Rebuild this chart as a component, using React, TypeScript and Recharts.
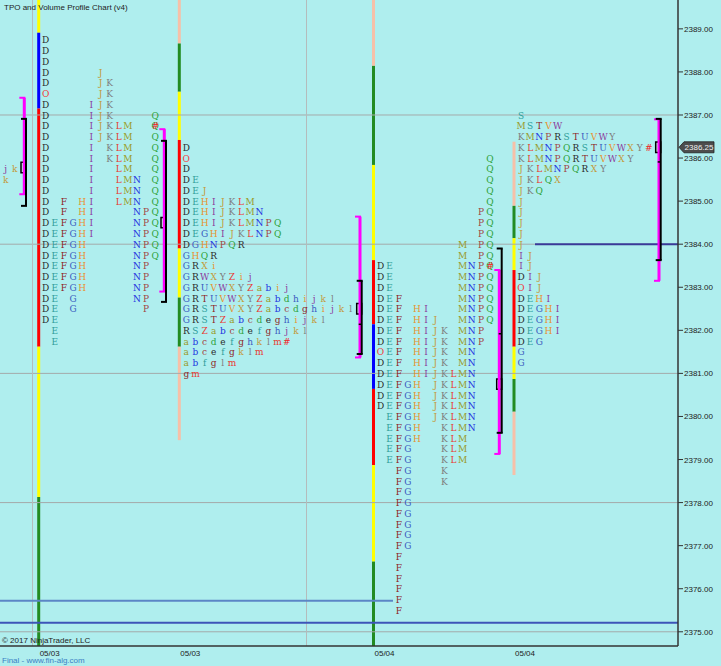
import React from 'react';
import { ComposedChart, XAxis, YAxis, Scatter, ReferenceArea, ReferenceLine, ReferenceDot } from 'recharts';

const BG = '#afeeee';

// ---- axes ----
const priceTicks = [2375, 2376, 2377, 2378, 2379, 2380, 2381, 2382, 2383, 2384, 2385, 2386, 2387, 2388, 2389];
const gridPrices = [2375, 2378, 2381, 2384, 2387];
const dayBreaks = [32.5, 306.5];
const sessionStarts = [38.7, 179.3, 373.5, 514];
const sessionDates = ['05/03', '05/03', '05/04', '05/04'];
const lastPrice = 2386.25;

// ---- TPO letters ----
const tpoSequence = 'DEFGHIJKLMNPQRSTUVWXYZabcdefghijklm';
const tpoPalette = ['#2b2b2b', '#2f9e9b', '#8e1f1f', '#3b5bc0', '#e8922e', '#8c3a9c', '#c39a3b', '#7f7f7f', '#e83a32', '#9a9a2a', '#2232e0', '#a3443f', '#2ea23a'];
const openColor = '#f03c3c';
const closeColor = '#f02828';

const stubRows = ['jk', 'k'];

const profile1Rows = [
  'D', 'D', 'D', 'D     J', 'D     JK', 'O     JK', 'D    IJK', 'D    IJK    Q',
  'D    IJKLM  &', 'D    IJKLM  Q', 'D    I KLM  Q', 'D    I KLM  Q', 'D    I  LM  Q',
  'D    I  LMN Q', 'D    I  LMN Q', 'D F HI  LMN Q', 'D F HI    NPQ', 'DEFGHI    NPQ',
  'DEFGHI    NPQ', 'DEFGH     NPQ', 'DEFGH     NPQ', 'DEFGH     NP', 'DEFGH     NP',
  'DEFGH     NP', 'DE G      NP', 'DE G       P', 'DE', ' E', ' E',
];

const profile2Rows = [
  'D', 'O', 'D', 'DE', 'DEJ', 'DEHIJKLM', 'DEHIJKLMN', 'DEHIJKLMNPQ', 'DEGHIJKLNPQ',
  'DGHNPQR', 'GHQR', 'GRXi', 'GRWXYZij', 'GRUVWXYZabij', 'GRTUVWXYZabdhijkl',
  'GRSTUVXYZabcdghijkl', 'GRSTZabcdeghijkl', 'RSZabcdefghjkl', 'abcdefghklm#',
  'abcefgklm', 'abfglm', 'gm',
];

const profile3Rows = [
  '            Q', '            Q', '            Q', '            Q', '            Q',
  '           PQ', '           PQ', '           PQ', '         M PQ', '         M PQ',
  'DE       MNP&', 'DE       MNPQ', 'DE       MNPQ', 'DEF      MNPQ', 'DEF HI   MNPQ',
  'DEF HIJ  MNPQ', 'DEF HIJK MNP', 'DEF HIJK MNP', 'OEF HIJK MN', 'DEF HIJK MN',
  'DEF HIJKLMN', 'DEFGH JKLMN', 'DEFGH JKLMN', 'DEFGH JKLMN', ' EFGH JKLMN',
  ' EFGH  KLMN', ' EFGH  KLM', ' EFG   KLM', ' EFG   KLM', '  FG   K', '  FG   K',
  '  FG', '  FG', '  FG', '  FG', '  FG', '  FG',
  '  F', '  F', '  F', '  F', '  F', '  F',
];

const profile4Rows = [
  'S', 'MSTVW', 'KMNPRSTUVWY', 'KLMNPQRSTUVWXY#', 'KLMNPQRTUVWXY', 'JKLMNPQRXY',
  'JKLQX', 'JKQ', 'J', 'J', 'J', 'J', 'J', 'IJ', 'IJ', 'DIJ', 'OIJ', 'DEHI',
  'DEGHI', 'DEGHI', 'DEGHI', 'DEG', 'G', 'G',
];

const profileRows = [stubRows, profile1Rows, profile2Rows, profile3Rows, profile4Rows];
const profileTops = [2385.75, 2388.75, 2386.25, 2386.0, 2387.0];
const profileStarts = [-1.3, 38.7, 179.3, 373.5, 514];

// ---- period colour bars (top price, bottom price, colour key) ----
const barColors: Record<string, string> = { Y: '#ffff00', B: '#0000ff', R: '#ff0000', G: '#228b22', P: '#f6c0a8' };
const periodBar1 = [
  [2389.67, 2388.91, 'Y'], [2388.91, 2387.15, 'B'], [2387.15, 2381.62, 'R'], [2381.62, 2378.13, 'Y'], [2378.13, 2374.67, 'G'],
];
const periodBar2 = [
  [2389.67, 2388.66, 'P'], [2388.66, 2387.54, 'G'], [2387.54, 2386.42, 'Y'], [2386.42, 2383.9, 'R'],
  [2383.9, 2382.76, 'Y'], [2382.76, 2381.62, 'G'], [2381.62, 2379.45, 'P'],
];
const periodBar3 = [
  [2389.67, 2388.14, 'P'], [2388.14, 2385.84, 'G'], [2385.84, 2383.63, 'Y'], [2383.63, 2382.14, 'R'],
  [2382.14, 2380.64, 'B'], [2380.64, 2378.87, 'R'], [2378.87, 2376.63, 'Y'], [2376.63, 2374.67, 'G'],
];
const periodBar4 = [
  [2386.38, 2384.89, 'P'], [2384.89, 2384.14, 'G'], [2384.14, 2383.4, 'Y'], [2383.4, 2381.62, 'R'],
  [2381.62, 2380.87, 'Y'], [2380.87, 2380.11, 'G'], [2380.11, 2378.64, 'P'],
];
const periodBars = [periodBar1, periodBar2, periodBar3, periodBar4];

// ---- value area brackets ----
const vaOuter = [
  { x: 24.3, hi: 2387.4, lo: 2385.16 },
  { x: 164.3, hi: 2386.67, lo: 2382.9 },
  { x: 360, hi: 2384.64, lo: 2381.37 },
  { x: 499.3, hi: 2383.4, lo: 2379.13 },
  { x: 659, hi: 2386.9, lo: 2383.15 },
];
const vaInner = [
  { x: 26, hi: 2386.91, lo: 2384.89, poc: 2385.78 },
  { x: 166, hi: 2386.4, lo: 2382.66, poc: 2384.5 },
  { x: 361.7, hi: 2383.15, lo: 2381.45, poc: 2382.5 },
  { x: 501.7, hi: 2383.9, lo: 2379.62, poc: 2380.75 },
  { x: 660.7, hi: 2386.91, lo: 2383.63, poc: 2386.25 },
];
const vaMidTicks = [
  { x: 361.7, y: 2382.14 },
  { x: 501.7, y: 2381.92 },
  { x: 660.7, y: 2385.91 },
];

// ---- horizontal price levels ----
const priceLevels = [
  { y: 2375.72, x1: 0, x2: 393, color: '#5b86c6' },
  { y: 2375.21, x1: 0, x2: 678, color: '#3c55b8' },
  { y: 2384.0, x1: 535, x2: 678, color: '#3a3a98' },
];

const COL = 9.13;
const LEAD = 7;

type Pt = { x: number; y: number; ch: string; color: string };
const letterPoints: Pt[] = [];
profileRows.forEach((rows, p) => {
  rows.forEach((row, r) => {
    [...row].forEach((ch, c) => {
      if (ch === ' ') return;
      const x = profileStarts[p] + LEAD + c * COL;
      const y = profileTops[p] - r * 0.25;
      if (ch === '&') {
        letterPoints.push({ x, y, ch: 'Q', color: tpoPalette[12] });
        letterPoints.push({ x, y, ch: '#', color: closeColor });
      } else if (ch === '#') {
        letterPoints.push({ x, y, ch, color: closeColor });
      } else if (ch === 'O') {
        letterPoints.push({ x, y, ch, color: openColor });
      } else {
        const idx = tpoSequence.indexOf(ch);
        letterPoints.push({ x, y, ch, color: tpoPalette[idx % 13] });
      }
    });
  });
});

const LetterShape = (props: any) => {
  const { cx, cy, payload } = props;
  return (
    <text x={cx} y={cy} dy="0.36em" textAnchor="middle" fontSize={10}
      fontFamily="'DejaVu Serif Condensed', 'DejaVu Serif', serif" fill={payload.color}>
      {payload.ch}
    </text>
  );
};

const YTick = (props: any) => (
  <text x={props.x} y={props.y} dy={3} fontSize={8} fill="#222"
    fontFamily="'Liberation Sans', Arial, sans-serif" textAnchor="start">
    {Number(props.payload.value).toFixed(2)}
  </text>
);

const XTick = (props: any) => {
  const i = sessionStarts.indexOf(props.payload.value);
  return (
    <text x={props.x + 11} y={props.y + 10} fontSize={8} fill="#222"
      fontFamily="'Liberation Sans', Arial, sans-serif" textAnchor="middle">
      {sessionDates[i]}
    </text>
  );
};

const PriceTag = (props: any) => {
  const { cx, cy } = props;
  return (
    <g>
      <path d={`M${cx + 1},${cy} L${cx + 6},${cy - 5.5} L${cx + 36},${cy - 5.5} L${cx + 36},${cy + 5.5} L${cx + 6},${cy + 5.5} Z`}
        fill="#4d4d4d" stroke="#222" strokeWidth={0.8} />
      <text x={cx + 21} y={cy} dy={3} textAnchor="middle" fontSize={8} fill="#f0f0f0"
        fontFamily="'Liberation Sans', Arial, sans-serif">{lastPrice.toFixed(2)}</text>
    </g>
  );
};

const smallText: React.CSSProperties = {
  position: 'absolute', fontFamily: "'Liberation Sans', Arial, sans-serif", fontSize: 8, whiteSpace: 'nowrap', lineHeight: '10px',
};

export default function App() {
  return (
    <div style={{ position: 'absolute', left: 0, top: 0, width: 721, height: 666, background: BG, overflow: 'hidden' }}>
      <ComposedChart width={721} height={666} margin={{ top: 0, right: 0, bottom: 0, left: 0 }}>
        <XAxis type="number" dataKey="x" domain={[0, 678]} allowDataOverflow height={20}
          ticks={sessionStarts} tick={XTick} tickLine={false} tickSize={0} tickMargin={0}
          axisLine={{ stroke: '#333', strokeWidth: 1.5 }} />
        <YAxis type="number" dataKey="y" orientation="right" domain={[2374.67, 2389.67]} allowDataOverflow width={43}
          ticks={priceTicks} tick={YTick} tickSize={5} tickMargin={1}
          tickLine={{ stroke: '#333' }} axisLine={{ stroke: '#333', strokeWidth: 1.5 }} />

        {gridPrices.map((p) => (
          <ReferenceLine key={'g' + p} y={p} stroke="#a4aaaa" strokeWidth={1} />
        ))}
        {dayBreaks.map((x) => (
          <ReferenceLine key={'d' + x} x={x} stroke="#b4bcbc" strokeWidth={1} />
        ))}
        {priceLevels.map((l, i) => (
          <ReferenceLine key={'l' + i} segment={[{ x: l.x1, y: l.y }, { x: l.x2, y: l.y }]} stroke={l.color} strokeWidth={2} />
        ))}

        {periodBars.map((bar, b) =>
          bar.map((s, i) => (
            <ReferenceArea key={'b' + b + '-' + i} x1={sessionStarts[b] - 1.5} x2={sessionStarts[b] + 1.5}
              y1={s[1] as number} y2={s[0] as number} fill={barColors[s[2] as string]} fillOpacity={1} stroke="none" />
          ))
        )}

        <Scatter data={letterPoints} dataKey="y" isAnimationActive={false} shape={LetterShape} />

        {vaOuter.map((v, i) => (
          <ReferenceLine key={'vo' + i} segment={[{ x: v.x, y: v.hi }, { x: v.x, y: v.lo }]} stroke="#ff00ff" strokeWidth={3} />
        ))}
        {vaOuter.map((v, i) => (
          <ReferenceLine key={'vot' + i} segment={[{ x: v.x - 5, y: v.hi }, { x: v.x + 1, y: v.hi }]} stroke="#ff00ff" strokeWidth={2} />
        ))}
        {vaOuter.map((v, i) => (
          <ReferenceLine key={'vob' + i} segment={[{ x: v.x - 5, y: v.lo }, { x: v.x + 1, y: v.lo }]} stroke="#ff00ff" strokeWidth={2} />
        ))}
        {vaInner.map((v, i) => (
          <ReferenceLine key={'vi' + i} segment={[{ x: v.x, y: v.hi }, { x: v.x, y: v.lo }]} stroke="#000" strokeWidth={2} />
        ))}
        {vaInner.map((v, i) => (
          <ReferenceLine key={'vit' + i} segment={[{ x: v.x - 5, y: v.hi }, { x: v.x + 1, y: v.hi }]} stroke="#000" strokeWidth={2} />
        ))}
        {vaInner.map((v, i) => (
          <ReferenceLine key={'vib' + i} segment={[{ x: v.x - 5, y: v.lo }, { x: v.x + 1, y: v.lo }]} stroke="#000" strokeWidth={2} />
        ))}
        {vaMidTicks.map((t, i) => (
          <ReferenceLine key={'vm' + i} segment={[{ x: t.x - 3, y: t.y }, { x: t.x, y: t.y }]} stroke="#000" strokeWidth={1.5} />
        ))}
        {vaInner.map((v, i) => (
          <ReferenceArea key={'poc' + i} x1={v.x - 5} x2={v.x} y1={v.poc - 0.12} y2={v.poc + 0.12}
            fill="#bfe8dc" fillOpacity={1} stroke="#000" strokeWidth={1.5} />
        ))}

        <ReferenceDot x={678} y={lastPrice} r={0} ifOverflow="visible" shape={PriceTag} />
      </ComposedChart>

      <div style={{ ...smallText, left: 4, top: 3, color: '#222' }}>TPO and Volume Profile Chart (v4)</div>
      <div style={{ ...smallText, left: 2, top: 636, color: '#222' }}>© 2017 NinjaTrader, LLC</div>
      <div style={{ ...smallText, left: 2, top: 656, color: '#3b7fc4' }}>Final - www.fin-alg.com</div>
    </div>
  );
}
